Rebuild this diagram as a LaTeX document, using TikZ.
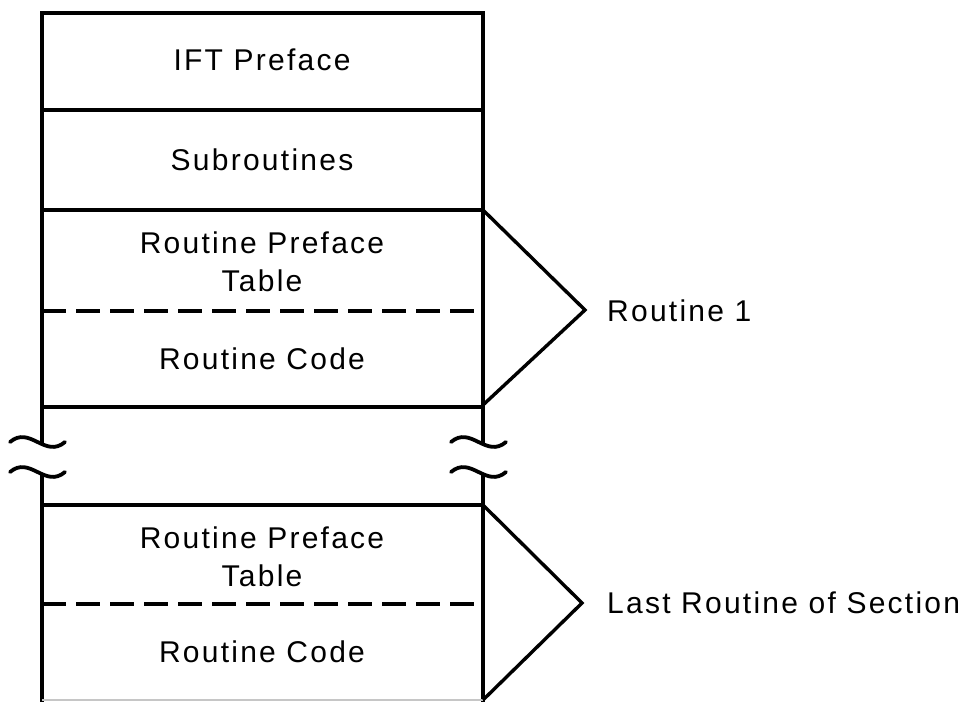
\documentclass[tikz,border=0pt]{standalone}
\usepackage{fontspec}
\newfontfamily\labfont[LetterSpace=7.5]{Liberation Sans}
\begin{document}
\begin{tikzpicture}[x=1pt,y=-1pt,
  frame/.style={line width=3.6pt},
  divider/.style={line width=3.4pt, dash pattern=on 24pt off 10pt},
  wavy/.style={line width=3.8pt, line cap=round},
  brace/.style={line width=3.4pt, line join=miter},
  lbl/.style={font=\labfont\fontsize{30}{38}\selectfont, inner sep=0pt, align=center}]
\useasboundingbox (0,0) rectangle (970,702);
% corners
\coordinate (tl) at (42,13);
\coordinate (tr) at (483,13);
\coordinate (lu) at (42,444);
\coordinate (ru) at (483,444);
\coordinate (ll) at (42,474);
\coordinate (rl) at (483,474);
\coordinate (bl) at (42,702);
\coordinate (br) at (483,702);
% outline
\draw[frame] (lu) -- (tl) -- (tr) -- (ru);
\draw[frame] (ll) -- (bl);
\draw[frame] (rl) -- (br);
% separators
\coordinate (a1) at (42,110);  \coordinate (b1) at (483,110);
\coordinate (a2) at (42,210);  \coordinate (b2) at (483,210);
\coordinate (a3) at (42,311);  \coordinate (b3) at (483,311);
\coordinate (a4) at (42,407);  \coordinate (b4) at (483,407);
\coordinate (a5) at (42,505);  \coordinate (b5) at (483,505);
\coordinate (a6) at (42,604);  \coordinate (b6) at (483,604);
\coordinate (a7) at (42,700);  \coordinate (b7) at (483,700);
\draw[frame] (a1) -- (b1);
\draw[frame] (a2) -- (b2);
\draw[divider] (a3) -- (b3);
\draw[frame] (a4) -- (b4);
\draw[frame] (a5) -- (b5);
\draw[divider] (a6) -- (b6);
\draw[gray!45, line width=1.5pt] (a7) -- (b7);
% break marks
\draw[wavy] (10,442) .. controls (30,425) and (45,459) .. (65,442);
\draw[wavy] (10,472) .. controls (30,455) and (45,489) .. (65,472);
\draw[wavy] (451,442) .. controls (471,425) and (486,459) .. (506,442);
\draw[wavy] (451,472) .. controls (471,455) and (486,489) .. (506,472);
% texts
\node[lbl, anchor=base] (ift) at (262,70) {IFT Preface};
\node[lbl, anchor=base] (sub) at (262,170) {Subroutines};
\node[lbl, anchor=base] (rpt1) at (262,253) {Routine Preface};
\node[lbl, anchor=base] (tab1) at (262,291) {Table};
\node[lbl, anchor=base] (rc1) at (262,369) {Routine Code};
\node[lbl, anchor=base] (rpt2) at (262,548) {Routine Preface};
\node[lbl, anchor=base] (tab2) at (262,586) {Table};
\node[lbl, anchor=base] (rc2) at (262,662) {Routine Code};
% brackets
\coordinate (t1) at (585,310);
\coordinate (t2) at (582,603);
\draw[brace] (b2) -- (t1) -- (483,405);
\draw[brace] (b5) -- (t2) -- (483,700);
\node[lbl, anchor=base west] (r1) at (607,321) {Routine 1};
\node[lbl, anchor=base west] (r2) at (607,613) {Last Routine of Section};
\end{tikzpicture}
\end{document}
